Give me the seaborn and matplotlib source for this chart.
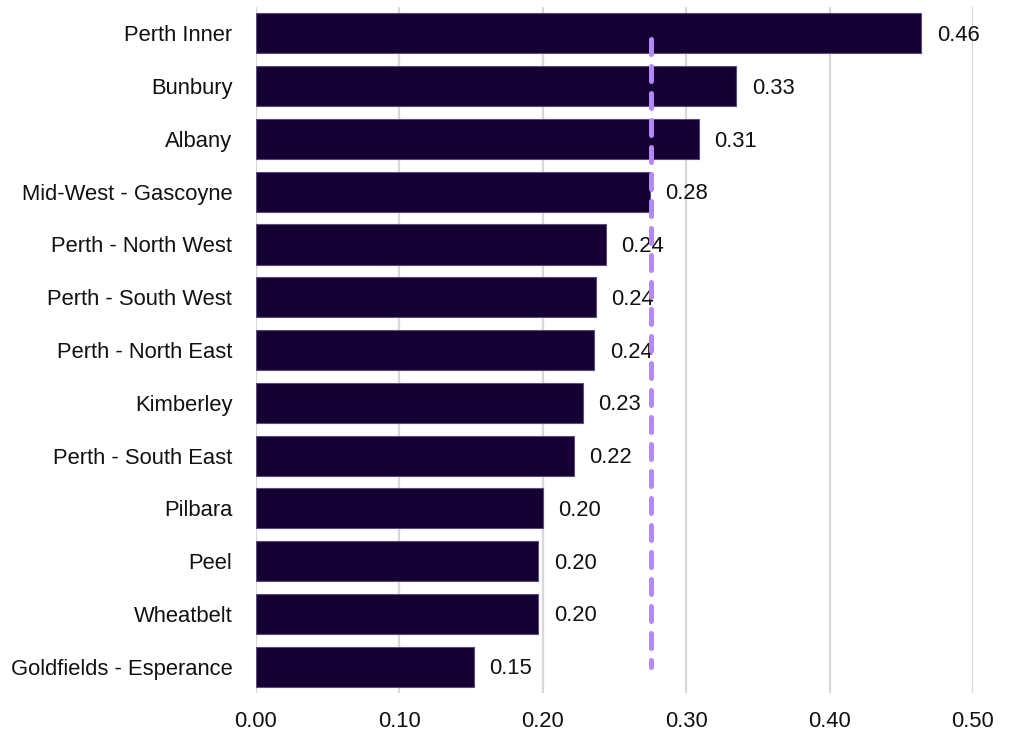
import matplotlib
matplotlib.use("Agg")
import matplotlib.pyplot as plt
import seaborn as sns
import pandas as pd

regions = ["Perth Inner", "Bunbury", "Albany", "Mid-West - Gascoyne",
           "Perth - North West", "Perth - South West", "Perth - North East",
           "Kimberley", "Perth - South East", "Pilbara", "Peel", "Wheatbelt",
           "Goldfields - Esperance"]
values = [0.464, 0.335, 0.309, 0.275, 0.244, 0.237, 0.236, 0.228, 0.222,
          0.200, 0.197, 0.197, 0.152]
labels = ["0.46", "0.33", "0.31", "0.28", "0.24", "0.24", "0.24", "0.23",
          "0.22", "0.20", "0.20", "0.20", "0.15"]
average = 0.2755
xticks = [0.0, 0.1, 0.2, 0.3, 0.4, 0.5]

sns.set_theme(style="white")
plt.rcParams["font.family"] = ["Liberation Sans", "DejaVu Sans"]

df = pd.DataFrame({"region": regions, "value": values})

fig = plt.figure(figsize=(10.11, 7.4), dpi=100)
ax = fig.add_axes([0.2532, 0.0635, 0.7092, 0.927])

sns.barplot(data=df, x="value", y="region", ax=ax, color="#150033",
            saturation=1, width=0.76, edgecolor="#5a4a80", linewidth=0.8,
            zorder=2)

for i, (v, lab) in enumerate(zip(values, labels)):
    ax.annotate(lab, (v, i), xytext=(11, -1.5), textcoords="offset points",
                va="center", ha="left", fontsize=15.8, color="#111111", zorder=3)

ax.vlines(average, 0.1, 12.0, colors="#b388f7", linestyles=(0, (3.0, 2.4)),
          linewidth=3.6, capstyle="round", zorder=4)

ax.set_xlim(0, 0.5)
ax.set_ylim(12.5, -0.5)
ax.set_xticks(xticks)
ax.set_xticklabels([f"{t:.2f}" for t in xticks])
ax.grid(axis="x", color="#d9d9d9", linewidth=1.6, zorder=0)
ax.grid(axis="y", visible=False)
ax.set_axisbelow(True)
for s in ax.spines.values():
    s.set_visible(False)
ax.tick_params(axis="both", length=0, labelsize=15.8, colors="#111111")
ax.tick_params(axis="y", pad=17)
ax.tick_params(axis="x", pad=13)
ax.set_xlabel("")
ax.set_ylabel("")

fig.savefig("out.png", dpi=100)
